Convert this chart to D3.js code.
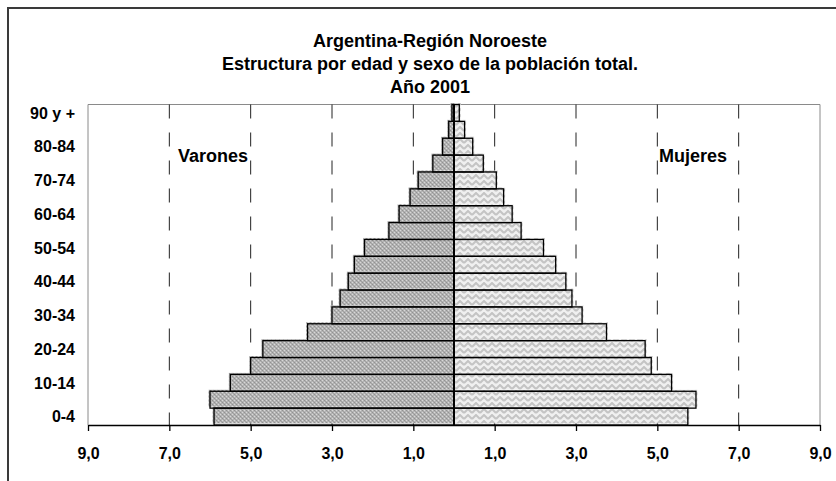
<!DOCTYPE html>
<html>
<head>
<meta charset="utf-8">
<script src="https://cdn.jsdelivr.net/npm/d3@7"></script>
<style>
  html, body { margin: 0; padding: 0; background: #fff; }
  svg { display: block; }
  text { font-family: "Liberation Sans", Arial, sans-serif; font-weight: bold; fill: #000; }
</style>
</head>
<body>
<svg id="chart" width="836" height="481"></svg>
<script>
// ---- data ----
const ageGroups = ["0-4","5-9","10-14","15-19","20-24","25-29","30-34","35-39","40-44",
  "45-49","50-54","55-59","60-64","65-69","70-74","75-79","80-84","85-89","90 y +"];
const labelledGroups = ["0-4","10-14","20-24","30-34","40-44","50-54","60-64","70-74","80-84","90 y +"];
const varones = [5.9, 6.0, 5.5, 5.0, 4.7, 3.6, 3.0, 2.8, 2.6, 2.45, 2.2, 1.6, 1.35, 1.08, 0.88, 0.52, 0.28, 0.13, 0.05];
const mujeres = [5.75, 5.95, 5.35, 4.85, 4.7, 3.75, 3.15, 2.9, 2.75, 2.5, 2.2, 1.65, 1.43, 1.22, 1.04, 0.72, 0.46, 0.26, 0.13];
const tickValues = [-9, -7, -5, -3, -1, 1, 3, 5, 7, 9];
const gridValues = [-7, -5, -3, -1, 1, 3, 5, 7];
const titleLines = ["Argentina-Región Noroeste", "Estructura por edad y sexo de la población total.", "Año 2001"];
const seriesLabels = ["Varones", "Mujeres"];

const svg = d3.select("#chart");
const plot = { left: 88, right: 820, top: 104.5, bottom: 425 };

// ---- patterns ----
const defs = svg.append("defs");
const pm = defs.append("pattern").attr("id", "patM").attr("patternUnits", "userSpaceOnUse")
  .attr("width", 4).attr("height", 4);
pm.append("rect").attr("width", 4).attr("height", 4).attr("fill", "#b4b4b4");
[[0,0,"#929292"],[2,2,"#929292"],[0,2,"#d8d8d8"],[2,0,"#d8d8d8"],[1,1,"#a2a2a2"],[3,3,"#a2a2a2"]].forEach(([x,y,c]) =>
  pm.append("rect").attr("x", x).attr("y", y).attr("width", 1).attr("height", 1).attr("fill", c));

const pf = defs.append("pattern").attr("id", "patF").attr("patternUnits", "userSpaceOnUse")
  .attr("width", 8).attr("height", 6);
pf.append("rect").attr("width", 8).attr("height", 6).attr("fill", "#f0f0f0");
pf.append("path").attr("d", "M0,5 L4,1 L8,5").attr("fill", "none").attr("stroke", "#c4c4c4").attr("stroke-width", 2);

// ---- outer frame ----
svg.append("rect").attr("x", 8).attr("y", 8).attr("width", 900).attr("height", 600)
  .attr("fill", "none").attr("stroke", "#3a3a3a").attr("stroke-width", 2);

// ---- scales ----
const x = d3.scaleLinear().domain([-9, 9]).range([plot.left, plot.right]);
const y = d3.scaleBand().domain(ageGroups).range([plot.bottom, plot.top]).padding(0);

// ---- plot frame ----
svg.append("path")
  .attr("d", `M${plot.left},${plot.bottom} V${plot.top} H${plot.right} V${plot.bottom}`)
  .attr("fill", "none").attr("stroke", "#8a8a8a").attr("stroke-width", 1);

// ---- gridlines ----
svg.append("g").selectAll("line").data(gridValues).join("line")
  .attr("x1", d => x(d)).attr("x2", d => x(d))
  .attr("y1", plot.top).attr("y2", plot.bottom)
  .attr("stroke", "#222").attr("stroke-width", 1)
  .attr("stroke-dasharray", "14,14");

// ---- bars ----
const rows = ageGroups.map((g, i) => ({ g, m: varones[i], f: mujeres[i] }));
const bars = svg.append("g");
bars.selectAll("rect.mfill").data(rows).join("rect").attr("class", "mfill")
  .attr("x", d => x(-d.m) - 1.5).attr("y", d => y(d.g) - 1.5)
  .attr("width", d => x(0) - x(-d.m) + 1.5).attr("height", y.bandwidth())
  .attr("fill", "url(#patM)");
bars.selectAll("rect.ffill").data(rows).join("rect").attr("class", "ffill")
  .attr("x", x(0)).attr("y", d => y(d.g) - 1.5)
  .attr("width", d => x(d.f) - x(0) + 1.5).attr("height", y.bandwidth())
  .attr("fill", "url(#patF)");
bars.selectAll("rect.mout").data(rows).join("rect").attr("class", "mout")
  .attr("x", d => x(-d.m)).attr("y", d => y(d.g))
  .attr("width", d => x(0) - x(-d.m)).attr("height", y.bandwidth())
  .attr("fill", "none").attr("stroke", "#000").attr("stroke-width", 1.3);
bars.selectAll("rect.fout").data(rows).join("rect").attr("class", "fout")
  .attr("x", x(0)).attr("y", d => y(d.g))
  .attr("width", d => x(d.f) - x(0)).attr("height", y.bandwidth())
  .attr("fill", "none").attr("stroke", "#000").attr("stroke-width", 1.3);

// zero line
svg.append("line").attr("x1", x(0)).attr("x2", x(0)).attr("y1", plot.top).attr("y2", plot.bottom)
  .attr("stroke", "#000").attr("stroke-width", 2);

// ---- x axis ----
const fmt = d3.format(".1f");
const xAxis = svg.append("g").attr("transform", `translate(0,${plot.bottom})`)
  .call(d3.axisBottom(x).tickValues(tickValues).tickSizeInner(6).tickSizeOuter(0)
    .tickFormat(d => fmt(Math.abs(d)).replace(".", ",")));
xAxis.select(".domain").attr("stroke", "#000").attr("stroke-width", 1.3);
xAxis.selectAll(".tick line").attr("stroke", "#000").attr("stroke-width", 1.3);
xAxis.selectAll(".tick text").attr("dy", "1.55em").style("font-size", "16px")
  .style("font-family", "'Liberation Sans', Arial, sans-serif").style("font-weight", "bold").attr("fill", "#000");

// ---- y labels ----
svg.append("g").selectAll("text").data(labelledGroups).join("text")
  .attr("x", 75).attr("y", d => y(d) + y.bandwidth() / 2)
  .attr("dy", "0.36em").attr("text-anchor", "end").style("font-size", "16px")
  .text(d => d);

// ---- series labels ----
svg.append("text").attr("x", 178).attr("y", 162).style("font-size", "18px").text(seriesLabels[0]);
svg.append("text").attr("x", 659).attr("y", 162).style("font-size", "18px").text(seriesLabels[1]);

// ---- title ----
svg.append("g").selectAll("text").data(titleLines).join("text")
  .attr("x", 430).attr("y", (d, i) => 46.5 + i * 23)
  .attr("text-anchor", "middle").style("font-size", "18px")
  .text(d => d);
</script>
</body>
</html>
